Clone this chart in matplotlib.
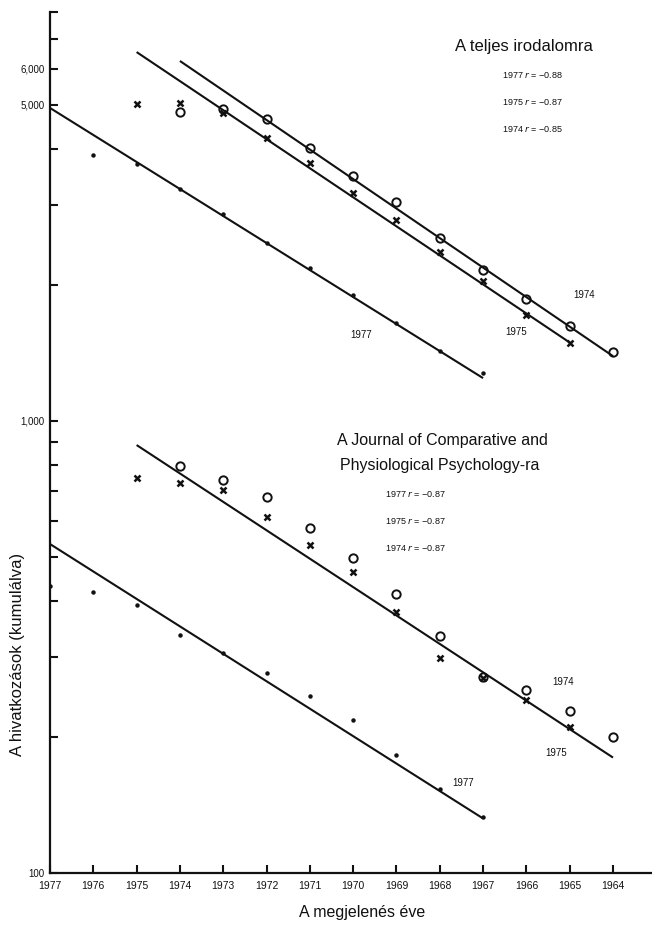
import numpy as np
import matplotlib
matplotlib.use('Agg')
import matplotlib.pyplot as plt
from matplotlib.ticker import FixedLocator, FixedFormatter, NullLocator

plt.rcParams['font.family'] = ['Liberation Sans', 'DejaVu Sans']

# publication years (x axis runs backwards)
years = list(range(1977, 1963, -1))

# --- upper panel: whole literature (cumulative citations)
all_1974_x = [1974, 1973, 1972, 1971, 1970, 1969, 1968, 1967, 1966, 1965, 1964]
all_1974_y = [4820, 4890, 4650, 4010, 3480, 3050, 2540, 2155, 1860, 1620, 1420]
all_1975_x = [1975, 1974, 1973, 1972, 1971, 1970, 1969, 1968, 1967, 1966, 1965]
all_1975_y = [5020, 5045, 4795, 4220, 3715, 3190, 2780, 2360, 2040, 1715, 1485]
all_1977_x = [1976, 1975, 1974, 1973, 1972, 1971, 1970, 1969, 1968, 1967]
all_1977_y = [3870, 3700, 3255, 2865, 2475, 2175, 1895, 1645, 1425, 1275]
# fitted lines (end points)
fit_all_1977 = ([1977, 1967], [4920, 1243])
fit_all_1975 = ([1975, 1965], [6540, 1490])
fit_all_1974 = ([1974, 1964], [6250, 1390])

# --- lower panel: Journal of Comparative and Physiological Psychology
jcp_1974_x = [1974, 1973, 1972, 1971, 1970, 1969, 1968, 1967, 1966, 1965, 1964]
jcp_1974_y = [794, 739, 678, 579, 497, 414, 334, 271, 254, 228, 200]
jcp_1975_x = [1975, 1974, 1973, 1972, 1971, 1970, 1969, 1968, 1967, 1966, 1965]
jcp_1975_y = [747, 728, 703, 612, 531, 463, 377, 299, 270, 241, 210]
jcp_1977_x = [1977, 1976, 1975, 1974, 1973, 1972, 1971, 1970, 1969, 1968, 1967]
jcp_1977_y = [431, 418, 391, 336, 306, 277, 246, 218, 182, 153, 133]
fit_jcp_1977 = ([1977, 1967], [534, 132])
fit_jcp_74_75 = ([1975, 1964], [884, 180])

r_all = ['1977 $r$ = \u22120.88', '1975 $r$ = \u22120.87', '1974 $r$ = \u22120.85']
r_jcp = ['1977 $r$ = \u22120.87', '1975 $r$ = \u22120.87', '1974 $r$ = \u22120.87']

ytick_vals = [100, 200, 300, 400, 500, 600, 700, 800, 900,
              1000, 2000, 3000, 4000, 5000, 6000, 7000, 8000]
ytick_text = {100: '100', 1000: '1,000', 5000: '5,000', 6000: '6,000'}

W, H = 652, 926
fig = plt.figure(figsize=(W / 100, H / 100), dpi=100)
ax = fig.add_axes([50 / W, 1 - 873 / H, 1 - 50 / W, (873 - 12) / H])

def px(x, y):
    return x / W, 1 - y / H

k = '#111111'
# fitted lines
for fx, fy in [fit_all_1977, fit_all_1975, fit_all_1974, fit_jcp_1977, fit_jcp_74_75]:
    ax.plot(fx, fy, color=k, lw=1.5, solid_capstyle='butt')

# data points
for xs, ys in [(all_1974_x, all_1974_y), (jcp_1974_x, jcp_1974_y)]:
    ax.plot(xs, ys, ls='none', marker='o', ms=6, mfc='none', mec=k, mew=1.4)
for xs, ys in [(all_1975_x, all_1975_y), (jcp_1975_x, jcp_1975_y)]:
    ax.plot(xs, ys, ls='none', marker='x', ms=4.5, mec=k, mew=1.8)
for xs, ys in [(all_1977_x, all_1977_y), (jcp_1977_x, jcp_1977_y)]:
    ax.plot(xs, ys, ls='none', marker='o', ms=2.2, mfc=k, mec=k)

ax.set_yscale('log')
ax.set_ylim(100, 8020)
ax.set_xlim(1977, 1963.1)

ax.yaxis.set_major_locator(FixedLocator(ytick_vals))
ax.yaxis.set_major_formatter(FixedFormatter([ytick_text.get(v, '') for v in ytick_vals]))
ax.yaxis.set_minor_locator(NullLocator())
ax.set_xticks(years)
ax.set_xticklabels([str(y) for y in years])

ax.tick_params(axis='y', direction='in', length=6, width=1.5, labelsize=7, pad=4, colors=k)
ax.tick_params(axis='x', direction='in', length=6, width=1.5, labelsize=7.5, pad=6, colors=k)
for s in ['top', 'right']:
    ax.spines[s].set_visible(False)
for s in ['left', 'bottom']:
    ax.spines[s].set_linewidth(1.6)
    ax.spines[s].set_color(k)

# titles and annotations
fig.text(*px(524, 46), 'A teljes irodalomra', fontsize=12, ha='center', va='center', color=k)
for i, t in enumerate(r_all):
    fig.text(*px(502, 75 + 27 * i), t, fontsize=6.5, ha='left', va='center', color=k)
fig.text(*px(442, 440), 'A Journal of Comparative and', fontsize=11.5, ha='center', va='center', color=k)
fig.text(*px(440, 466), 'Physiological Psychology-ra', fontsize=11.5, ha='center', va='center', color=k)
for i, t in enumerate(r_jcp):
    fig.text(*px(385, 494 + 27 * i), t, fontsize=6.5, ha='left', va='center', color=k)

# series labels next to fitted lines
for (x, y), t in [((584, 295), '1974'), ((516, 332), '1975'), ((361, 335), '1977'),
                  ((563, 682), '1974'), ((556, 753), '1975'), ((463, 783), '1977')]:
    fig.text(*px(x, y), t, fontsize=7, ha='center', va='center', color=k)

fig.text(*px(362, 913), 'A megjelenés éve', fontsize=11.5, ha='center', va='center', color=k)
fig.text(*px(18, 654), 'A hivatkozások (kumulálva)', fontsize=12, rotation=90,
         ha='center', va='center', color=k)

fig.savefig('out.png', dpi=100)
